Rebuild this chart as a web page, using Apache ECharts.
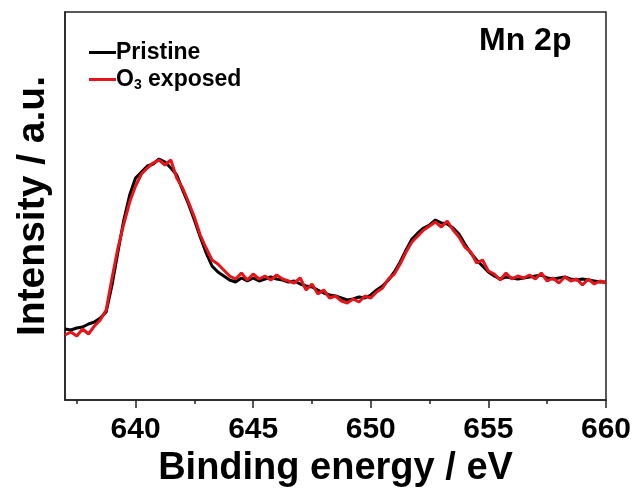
<!DOCTYPE html>
<html>
<head>
<meta charset="utf-8">
<script src="https://cdn.jsdelivr.net/npm/echarts@6/dist/echarts.min.js"></script>
<style>
  html, body { margin: 0; padding: 0; background: #fff; }
  #chart { width: 639px; height: 488px; }
</style>
</head>
<body>
<div id="chart"></div>
<script>
  // binding energy (eV), step 0.25
  var energy = [];
  for (var e = 637; e <= 660.001; e += 0.25) energy.push(+e.toFixed(2));

  var pristine = [
    71, 70, 72, 73, 76, 78, 82, 88, 115, 148, 180, 205, 222, 228, 234, 236,
    241, 238, 232, 225, 210, 196, 180, 163, 147, 134, 128, 124, 120, 118, 122, 119,
    122, 119, 121, 123, 121, 120, 118, 119, 116, 114, 113, 110, 107, 105, 104, 102,
    100, 101, 103, 102, 105, 110, 114, 120, 128, 138, 150, 161, 167, 172, 175, 180,
    177, 176, 172, 166, 156, 147, 140, 134, 128, 124, 121, 123, 122, 121, 122, 123,
    124, 125, 122, 121, 122, 123, 121, 120, 121, 120, 119, 118, 118
  ];

  var o3Exposed = [
    65, 68, 64, 71, 66, 74, 80, 90, 122, 152, 176, 198, 214, 226, 232, 237,
    240, 235, 240, 222, 212, 198, 183, 165, 152, 140, 136, 130, 124, 121, 127, 120,
    126, 121, 124, 120, 125, 121, 119, 117, 122, 110, 116, 106, 110, 102, 104, 99,
    97, 101, 98, 104, 102, 108, 112, 121, 126, 136, 148, 158, 164, 170, 174, 178,
    173, 179, 170, 163, 153, 148, 137, 140, 129, 126, 120, 127, 121, 124, 122, 125,
    121, 127, 119, 122, 117, 123, 119, 121, 115, 121, 116, 119, 117
  ];

  var majorTicks = [640, 645, 650, 655, 660];
  var minorTicks = [637.5, 642.5, 647.5, 652.5, 657.5];

  function pairs(ys) {
    return energy.map(function (x, i) { return [x, ys[i]]; });
  }

  var font = 'Liberation Sans, Arial, sans-serif';
  var chart = echarts.init(document.getElementById('chart'));
  chart.setOption({
    animation: false,
    backgroundColor: '#fff',
    grid: {
      left: 65, top: 12, right: 33, bottom: 88,
      outerBoundsMode: 'none',
      show: true, borderColor: '#222', borderWidth: 1.5
    },
    title: {
      text: 'Mn 2p',
      left: 474, top: 20,
      textStyle: { fontFamily: font, fontWeight: 'bold', fontSize: 32, color: '#000' }
    },
    legend: {
      orient: 'vertical',
      left: 84, top: 36,
      itemWidth: 27, itemHeight: 3, itemGap: 4,
      icon: 'rect',
      data: ['Pristine', 'O3 exposed'],
      formatter: function (name) {
        return name === 'O3 exposed' ? 'O{sub|3} exposed' : name;
      },
      textStyle: {
        fontFamily: font, fontWeight: 'bold', fontSize: 23, color: '#000', padding: [0, 0, 0, -5],
        rich: {
          sub: { fontFamily: font, fontWeight: 'bold', fontSize: 14, verticalAlign: 'bottom', padding: [12, 0, 0, 0] }
        }
      }
    },
    xAxis: [{
      type: 'value', min: 637, max: 660,
      name: 'Binding energy / eV', nameLocation: 'middle', nameGap: 41,
      nameTextStyle: { fontFamily: font, fontWeight: 'bold', fontSize: 38, color: '#000' },
      axisLine: { lineStyle: { color: '#222', width: 1.5 } },
      axisTick: { length: 8, lineStyle: { color: '#222', width: 1.5 }, customValues: majorTicks },
      axisLabel: { fontFamily: font, fontWeight: 'bold', fontSize: 30, color: '#000', margin: 15, customValues: majorTicks },
      splitLine: { show: false }
    }, {
      type: 'value', min: 637, max: 660, position: 'bottom',
      axisLine: { show: false },
      axisTick: { length: 4, lineStyle: { color: '#222', width: 1.5 }, customValues: minorTicks },
      axisLabel: { show: false },
      splitLine: { show: false }
    }],
    yAxis: {
      type: 'value', min: 0, max: 388,
      name: 'Intensity / a.u.', nameLocation: 'middle', nameGap: 12, nameRotate: 90,
      nameTextStyle: { fontFamily: font, fontWeight: 'bold', fontSize: 39, color: '#000' },
      axisLine: { show: true, lineStyle: { color: '#222', width: 1.5 } },
      axisTick: { show: false },
      axisLabel: { show: false },
      splitLine: { show: false }
    },
    series: [{
      name: 'Pristine', type: 'line', xAxisIndex: 0,
      data: pairs(pristine), showSymbol: false,
      lineStyle: { color: '#000', width: 3 }, itemStyle: { color: '#000' }
    }, {
      name: 'O3 exposed', type: 'line', xAxisIndex: 0,
      data: pairs(o3Exposed), showSymbol: false,
      lineStyle: { color: '#e8141a', width: 3 }, itemStyle: { color: '#e8141a' }
    }]
  });
</script>
</body>
</html>
